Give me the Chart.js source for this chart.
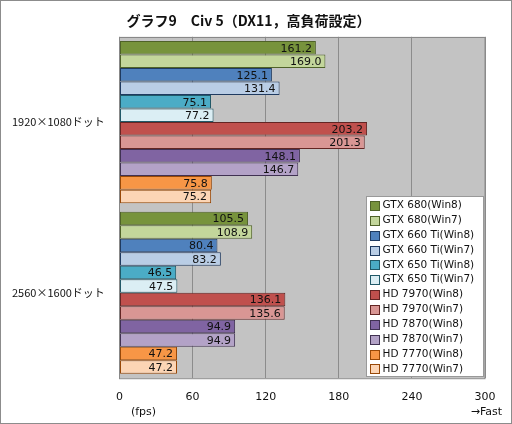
<!DOCTYPE html>
<html lang="ja">
<head>
<meta charset="UTF-8">
<title>グラフ9 Civ 5</title>
<script src="https://cdn.jsdelivr.net/npm/chart.js"></script>
<style>
    html, body { margin: 0; padding: 0; background: #fff; }
    #wrap { width: 512px; height: 424px; }
</style>
</head>
<body>
<div id="wrap"><canvas id="chart" width="512" height="424"></canvas></div>
<script>
// chart data
const categories = ['1920×1080ドット', '2560×1600ドット'];
const seriesNames = [
    'GTX 680(Win8)', 'GTX 680(Win7)',
    'GTX 660 Ti(Win8)', 'GTX 660 Ti(Win7)',
    'GTX 650 Ti(Win8)', 'GTX 650 Ti(Win7)',
    'HD 7970(Win8)', 'HD 7970(Win7)',
    'HD 7870(Win8)', 'HD 7870(Win7)',
    'HD 7770(Win8)', 'HD 7770(Win7)'
];
const fps1920 = [161.2, 169.0, 125.1, 131.4, 75.1, 77.2, 203.2, 201.3, 148.1, 146.7, 75.8, 75.2];
const fps2560 = [105.5, 108.9, 80.4, 83.2, 46.5, 47.5, 136.1, 135.6, 94.9, 94.9, 47.2, 47.2];
const xTicks = [0, 60, 120, 180, 240, 300];

const fills = ['#77933c', '#c3d69b', '#4f81bd', '#b9cde5', '#4bacc6', '#dbeef4',
               '#c0504d', '#d99694', '#8064a2', '#b3a2c7', '#f79646', '#fcd5b5'];
const edges = ['#4f6228', '#4f6228', '#1f3a60', '#1f3a60', '#215968', '#215968',
               '#632523', '#632523', '#403152', '#403152', '#984807', '#984807'];

const FONT = '"DejaVu Sans", Verdana, sans-serif';

const datasets = seriesNames.map((name, i) => ({
    label: name,
    data: [fps1920[i], fps2560[i]],
    backgroundColor: fills[i],
    borderColor: edges[i],
    borderWidth: 1,
    borderSkipped: false,
    barPercentage: 1.0,
    categoryPercentage: 0.95
}));

// plot background, value labels, legend box and extra texts
const decor = {
    id: 'decor',
    beforeDraw(chart) {
        const { ctx, chartArea: a } = chart;
        ctx.save();
        ctx.fillStyle = '#c3c3c3';
        ctx.fillRect(a.left, a.top, a.right - a.left, a.bottom - a.top);
        ctx.restore();
    },
    afterDatasetsDraw(chart) {
        const { ctx } = chart;
        ctx.save();
        ctx.font = '11px ' + FONT;
        ctx.fillStyle = '#111';
        ctx.textAlign = 'right';
        ctx.textBaseline = 'middle';
        chart.data.datasets.forEach((ds, i) => {
            chart.getDatasetMeta(i).data.forEach((bar, j) => {
                ctx.fillText(ds.data[j].toFixed(1), bar.x - 4, bar.y + 1);
            });
        });
        ctx.restore();
    },
    afterDraw(chart) {
        const { ctx, chartArea: a } = chart;
        ctx.save();
        // plot frame
        ctx.strokeStyle = '#888';
        ctx.lineWidth = 1;
        ctx.strokeRect(a.left, Math.round(a.top) + 0.5, a.right - a.left, a.bottom - a.top);

        // legend
        const rowH = 14.85;
        const bw = 117, bh = 180;
        const bx = Math.round(a.right) - 118.5, by = Math.round(a.bottom) - 181.5;
        ctx.fillStyle = '#fff';
        ctx.fillRect(bx, by, bw, bh);
        ctx.strokeStyle = '#999';
        ctx.strokeRect(bx, by, bw, bh);
        ctx.font = '10.5px ' + FONT;
        ctx.textAlign = 'left';
        ctx.textBaseline = 'middle';
        chart.data.datasets.forEach((ds, i) => {
            const cy = by + 9 + i * rowH;
            ctx.fillStyle = ds.backgroundColor;
            ctx.fillRect(bx + 4, Math.round(cy - 4.5) + 0.5, 9, 9);
            ctx.strokeStyle = ds.borderColor;
            ctx.strokeRect(bx + 4, Math.round(cy - 4.5) + 0.5, 9, 9);
            ctx.fillStyle = '#111';
            ctx.fillText(ds.label, bx + 16, cy);
        });

        // axis notes
        ctx.font = '11px ' + FONT;
        ctx.fillStyle = '#111';
        ctx.textAlign = 'center';
        ctx.fillText('(fps)', a.left + 24, 412);
        ctx.textAlign = 'right';
        ctx.fillText('→Fast', 502, 412);

        // outer border
        ctx.strokeStyle = '#8c8c8c';
        ctx.strokeRect(0.5, 0.5, chart.width - 1, chart.height - 1);
        ctx.restore();
    }
};

new Chart(document.getElementById('chart'), {
    type: 'bar',
    data: { labels: categories, datasets: datasets },
    options: {
        indexAxis: 'y',
        responsive: false,
        animation: false,
        devicePixelRatio: 1,
        layout: { padding: { left: 12, right: 27, top: 0, bottom: 0 } },
        scales: {
            x: {
                min: 0,
                max: 300,
                afterBuildTicks(scale) {
                    scale.ticks = xTicks.map(v => ({ value: v }));
                },
                afterFit(scale) { scale.height = 46; },
                grid: { color: '#8c8c8c', drawTicks: false },
                border: { display: false },
                ticks: {
                    padding: 13,
                    color: '#111',
                    font: { family: FONT, size: 11 },
                    maxRotation: 0
                }
            },
            y: {
                afterFit(scale) { scale.width = 107.5; },
                grid: { display: false },
                border: { display: false },
                ticks: {
                    crossAlign: 'far',
                    color: '#111',
                    font: { family: '"Noto Sans CJK JP", ' + FONT, size: 11 }
                }
            }
        },
        plugins: {
            legend: { display: false },
            tooltip: { enabled: false },
            title: {
                display: true,
                text: 'グラフ9　Civ 5（DX11，高負荷設定）',
                color: '#111',
                font: { family: '"Noto Sans CJK JP", sans-serif', size: 14, weight: 'bold' },
                padding: { top: 12, bottom: 8 }
            }
        }
    },
    plugins: [decor]
});
</script>
</body>
</html>
